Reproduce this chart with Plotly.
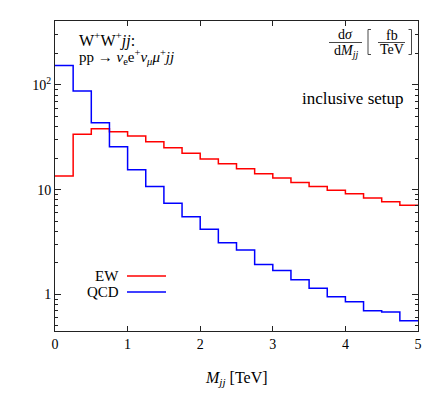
import math
import plotly.graph_objects as go

# ---- data ----
bin_edges = [0.0, 0.25, 0.5, 0.75, 1.0, 1.25, 1.5, 1.75, 2.0, 2.25, 2.5,
             2.75, 3.0, 3.25, 3.5, 3.75, 4.0, 4.25, 4.5, 4.75, 5.0]
ew_values = [13.5, 33.8, 38.2, 35.7, 32.5, 28.6, 25.1, 22.2, 19.6, 17.7,
             15.8, 14.2, 12.9, 11.7, 10.7, 9.85, 9.14, 8.32, 7.67, 7.08]
qcd_values = [153, 87.5, 43.5, 25.7, 15.5, 10.7, 7.40, 5.51, 4.18, 3.11,
              2.65, 1.93, 1.69, 1.38, 1.14, 0.949, 0.850, 0.697, 0.677, 0.560]
x_ticks = [0, 1, 2, 3, 4, 5]
x_tick_labels = ["0", "1", "2", "3", "4", "5"]
y_ticks = [1, 10, 100]
y_tick_labels = ["1", "10", "10<sup>2</sup>"]
y_minor_ticks = [0.5, 0.6, 0.7, 0.8, 0.9, 2, 3, 4, 5, 6, 7, 8, 9,
                 20, 30, 40, 50, 60, 70, 80, 90, 200, 300, 400]
series_names = ["EW", "QCD"]
series_colors = ["#ff0000", "#0000ff"]

FONT = "Liberation Serif"
OFF = 8  # default page body margin
W, H = 436 - OFF, 394 - OFF
L, R, T, B = 55, 418, 21, 331  # plot area in window pixels


def px(x):
    return (x - L) / (R - L)


def py(y):
    return (B - y) / (B - T)


fig = go.Figure()
for name, vals, col in zip(series_names, [ew_values, qcd_values], series_colors):
    fig.add_trace(go.Scatter(
        x=bin_edges, y=vals + [vals[-1]], mode="lines", name=name,
        line=dict(color=col, width=1.5, shape="hv"), showlegend=False,
        hoverinfo="skip"))

axis_common = dict(showline=True, linecolor="#222", linewidth=1, mirror="ticks",
                   ticks="inside", tickcolor="#222", showgrid=False, zeroline=False,
                   tickfont=dict(family=FONT, size=14, color="black"))

fig.update_xaxes(range=[0, 5], tickvals=x_ticks, ticktext=x_tick_labels,
                 ticklen=5, **axis_common)
fig.update_yaxes(type="log", range=[math.log10(0.446), math.log10(408)],
                 tickvals=y_ticks, ticktext=y_tick_labels, ticklen=6,
                 minor=dict(tickvals=y_minor_ticks, ticks="inside", ticklen=3,
                            tickcolor="#222", showgrid=False),
                 **axis_common)

ann = []


def text(x, y, s, size, anchor="center"):
    ann.append(dict(x=px(x), y=py(y), xref="paper", yref="paper", text=s,
                    showarrow=False, xanchor=anchor, yanchor="middle",
                    font=dict(family=FONT, size=size, color="black")))


text(77, 39, "W<sup>+</sup>W<sup>+</sup><i>jj</i>:", 16, "left")
text(77, 57, "pp → <i>ν</i><sub>e</sub>e<sup>+</sup><i>ν</i><sub><i>μ</i></sub><i>μ</i><sup>+</sup><i>jj</i>", 15, "left")
text(353, 99, "inclusive setup", 17)
# d sigma / d M_jj [fb/TeV]
text(345.5, 34.5, "d<i>σ</i>", 14)
text(345.5, 51, "d<i>M</i><sub><i>jj</i></sub>", 14)
text(391.5, 35, "fb", 14)
text(391.5, 50, "TeV", 14)
# legend labels
text(121, 276, "EW", 15, "right")
text(121, 292, "QCD", 15, "right")
# x title
text(236, 378, "<i>M</i><sub><i>jj</i></sub> [TeV]", 16)

shapes = []


def hline(x0, x1, y, color="#333", width=0.9):
    shapes.append(dict(type="line", xref="paper", yref="paper",
                       x0=px(x0), x1=px(x1), y0=py(y), y1=py(y),
                       line=dict(color=color, width=width)))


hline(329, 362, 42.5)
hline(378, 405, 42.5)
hline(127, 166, 276, series_colors[0], 1.5)
hline(127, 166, 292, series_colors[1], 1.5)


def bracket(x, y0, y1, d):
    p = (f"M {px(x + d)},{py(y0)} L {px(x)},{py(y0)} L {px(x)},{py(y1)} "
         f"L {px(x + d)},{py(y1)}")
    shapes.append(dict(type="path", xref="paper", yref="paper", path=p,
                       line=dict(color="#333", width=0.9)))


bracket(368, 29.5, 54.5, 3)
bracket(411.5, 29.5, 54.5, -3)

fig.update_layout(width=W, height=H, autosize=False,
                  margin=dict(l=L - OFF, r=W + OFF - R, t=T - OFF,
                              b=H + OFF - B, pad=0),
                  plot_bgcolor="white", paper_bgcolor="white",
                  annotations=ann, shapes=shapes, showlegend=False,
                  font=dict(family=FONT, size=14, color="black"))

fig.write_html("out.html")
